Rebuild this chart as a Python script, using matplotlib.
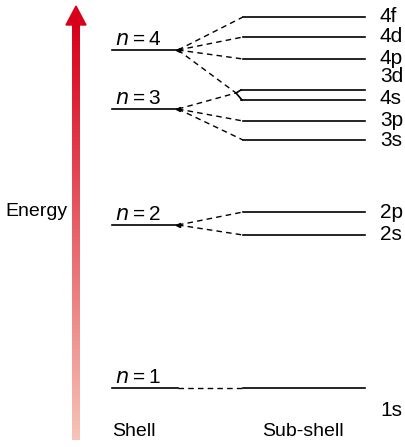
import matplotlib
matplotlib.use("Agg")
import matplotlib.pyplot as plt
import numpy as np
from matplotlib.patches import Polygon
from matplotlib.colors import LinearSegmentedColormap

plt.rcParams['font.family'] = ['Liberation Sans Narrow', 'Liberation Sans', 'DejaVu Sans']

# data (pixel-like energy positions, smaller = higher energy)
shells = ["n=1", "n=2", "n=3", "n=4"]
shell_y = [388, 225, 109, 50]
subshells = ["1s", "2s", "2p", "3s", "3p", "4s", "3d", "4p", "4d", "4f"]
sub_y = [388, 235, 212, 140, 121, 100, 90, 59, 37, 17]
sub_parent = [0, 1, 1, 2, 2, 3, 2, 3, 3, 3]
label_y = {"1s": 411, "2s": 234, "2p": 212, "3s": 141, "3p": 120, "4s": 99,
           "3d": 77, "4p": 58, "4d": 37, "4f": 16}

fig = plt.figure(figsize=(4.06, 4.47), dpi=100)
ax = fig.add_axes([0, 0, 1, 1])

grad = np.linspace(0, 1, 256).reshape(-1, 1)
cmap = LinearSegmentedColormap.from_list('g', ['#d8001a', '#f6c4b8'])
ax.imshow(grad, extent=(72, 80, 440, 25), cmap=cmap, aspect='auto', zorder=1)
ax.add_patch(Polygon([[66, 25], [86, 25], [76, 6]], closed=True, color='#d8001a', zorder=2))
ax.set_xlim(0, 406)
ax.set_ylim(447, 0)
ax.axis('off')

ax.text(36, 211, "Energy", ha='center', va='center', fontsize=14)
ax.text(134, 431, "Shell", ha='center', va='center', fontsize=14)
ax.text(303, 431, "Sub-shell", ha='center', va='center', fontsize=14)

for name, y in zip(shells, shell_y):
    ax.plot([112, 178], [y, y], color='black', lw=1.2)
    if name != "n=1":
        ax.plot(178, y, marker='<', color='black', ms=3)
    ax.text(115, y - 1, r"$n$" + "\u2009=\u2009" + name[2:], ha='left', va='bottom', fontsize=15)

junction = (236, 93)
for name, y, p in zip(subshells, sub_y, sub_parent):
    x0 = 243
    if name in ("4s", "3d"):
        ax.plot([junction[0], 241 if name == "3d" else 242], [junction[1], y], color='black', lw=1.2)
        ax.plot([241, 365], [y, y], color='black', lw=1.2)
        ax.plot([178, junction[0]], [shell_y[p], junction[1]], color='black', lw=1, ls=(0, (4, 3)))
    else:
        ax.plot([x0, 365], [y, y], color='black', lw=1.2)
        if name == "1s":
            ax.plot([178, x0], [y, y], color='black', lw=1, ls=(0, (4, 3)))
        else:
            ax.plot([178, x0], [shell_y[p], y], color='black', lw=1, ls=(0, (4, 3)))
    ax.text(380, label_y[name], name, ha='left', va='center', fontsize=15)

fig.savefig("out.png", dpi=100)
